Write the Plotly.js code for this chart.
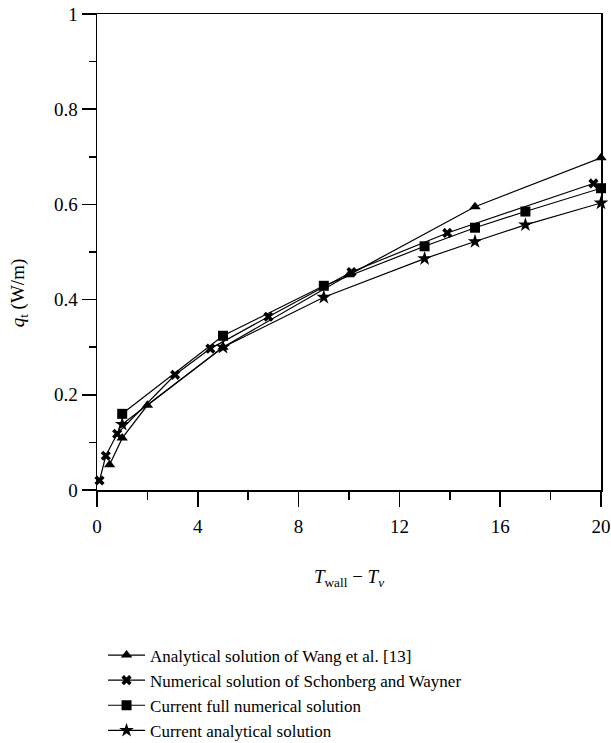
<!DOCTYPE html>
<html>
<head>
<meta charset="utf-8">
<script src="https://cdn.plot.ly/plotly-3.0.1.min.js"></script>
<style>html,body{margin:0;padding:0;background:#fff;}#chart{width:611px;height:743px;}</style>
</head>
<body>
<div id="chart"></div>
<script>
// Analytical solution of Wang et al. [13]
const wangX = [0.5, 1.0, 2.0, 5.0, 10.0, 15.0, 20.0];
const wangY = [0.053, 0.109, 0.178, 0.300, 0.452, 0.595, 0.698];
// Numerical solution of Schonberg and Wayner
const schX = [0.1, 0.35, 0.8, 3.1, 4.5, 6.8, 10.1, 13.9, 19.7];
const schY = [0.020, 0.072, 0.118, 0.242, 0.297, 0.364, 0.458, 0.540, 0.644];
// Current full numerical solution
const fullX = [1.0, 5.0, 9.0, 13.0, 15.0, 17.0, 20.0];
const fullY = [0.160, 0.324, 0.429, 0.512, 0.551, 0.585, 0.634];
// Current analytical solution
const curX = [1.0, 5.0, 9.0, 13.0, 15.0, 17.0, 20.0];
const curY = [0.138, 0.300, 0.405, 0.486, 0.522, 0.557, 0.603];

const names = [
  'Analytical solution of Wang et al. [13]',
  'Numerical solution of Schonberg and Wayner',
  'Current full numerical solution',
  'Current analytical solution'
];
const xTicks = [0, 4, 8, 12, 16, 20];
const yTicks = [0, 0.2, 0.4, 0.6, 0.8, 1];
const yTickText = ['0', '0.2', '0.4', '0.6', '0.8', '1'];

const FONT = 'Liberation Serif, Times New Roman, serif';
function tr(x, y, name, sym, size) {
  return {
    x: x, y: y, name: name, type: 'scatter', mode: 'lines+markers',
    line: {color: '#000', width: 1.2},
    marker: {symbol: sym, size: size, color: '#000', line: {width: 0}},
    cliponaxis: false
  };
}
const data = [
  tr(wangX, wangY, names[0], 'triangle-up', 10),
  tr(schX, schY, names[1], 'x', 9),
  tr(fullX, fullY, names[2], 'square', 10),
  tr(curX, curY, names[3], 'star', 11)
];
const layout = {
  width: 611, height: 743,
  margin: {l: 97, r: 10, t: 14, b: 253, autoexpand: false},
  paper_bgcolor: '#fff', plot_bgcolor: '#fff',
  font: {family: FONT, size: 19, color: '#000'},
  showlegend: true,
  legend: {x: 0.012, xanchor: 'left', yref: 'container', y: 0.142, yanchor: 'top',
           font: {family: FONT, size: 17, color: '#000'},
           tracegroupgap: 0, itemwidth: 37, bgcolor: 'rgba(0,0,0,0)'},
  xaxis: {
    range: [0, 20], tickvals: xTicks, ticktext: xTicks.map(String),
    showgrid: false, zeroline: false, showline: true, linecolor: '#000', linewidth: 1.5,
    mirror: true, ticks: 'outside', ticklen: 15, tickwidth: 1.5, tickcolor: '#000',
    ticklabelstandoff: 4,
    minor: {tickvals: [2, 6, 10, 14, 18], ticks: 'outside', ticklen: 8, tickwidth: 1.5, tickcolor: '#000'},
    title: {text: '<i>T</i><sub>wall</sub> − <i>T</i><sub><i>v</i></sub>', font: {family: FONT, size: 19}, standoff: 33}
  },
  yaxis: {
    range: [0, 1], tickvals: yTicks, ticktext: yTickText,
    showgrid: false, zeroline: false, showline: true, linecolor: '#000', linewidth: 1.5,
    mirror: true, ticks: 'outside', ticklen: 14, tickwidth: 1.5, tickcolor: '#000',
    ticklabelstandoff: 0,
    minor: {tickvals: [0.1, 0.3, 0.5, 0.7, 0.9], ticks: 'outside', ticklen: 7, tickwidth: 1.5, tickcolor: '#000'}
  },
  annotations: [{
    text: '<i>q</i><sub>t</sub> (W/m)', textangle: -90, showarrow: false,
    xref: 'paper', yref: 'paper', x: -0.153, y: 0.415, xanchor: 'center', yanchor: 'middle',
    font: {family: FONT, size: 19, color: '#000'}
  }]
};
Plotly.newPlot('chart', data, layout, {displayModeBar: false, staticPlot: true});
</script>
</body>
</html>
